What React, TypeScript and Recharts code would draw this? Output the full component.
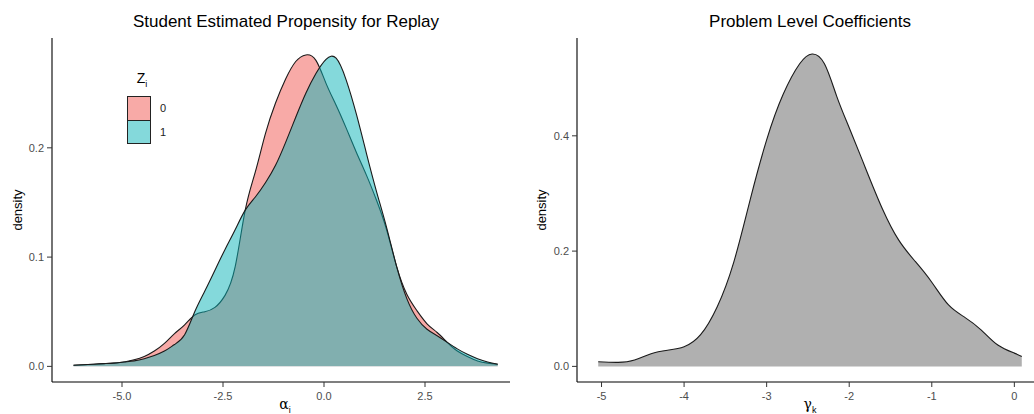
import React from 'react';
import { AreaChart, Area, XAxis, YAxis } from 'recharts';

// alpha_i grid and the two group densities (Z_i = 0 / 1)
const alphaGrid = [
  -6.2, -5.95, -5.7, -5.45, -5.2, -4.95, -4.7, -4.45, -4.2, -3.95, -3.7, -3.45, -3.2, -2.95, -2.7,
  -2.45, -2.2, -1.95, -1.7, -1.45, -1.2, -0.95, -0.7, -0.45, -0.2, 0.05, 0.3, 0.55, 0.8, 1.05,
  1.3, 1.55, 1.8, 2.05, 2.3, 2.55, 2.8, 3.05, 3.3, 3.55, 3.8, 4.05, 4.3,
];
const densityZ0 = [
  0.001, 0.0015, 0.002, 0.0025, 0.003, 0.004, 0.006, 0.009, 0.014, 0.021, 0.03, 0.038, 0.047, 0.05, 0.054,
  0.065, 0.091, 0.143, 0.178, 0.213, 0.241, 0.263, 0.279, 0.285, 0.28, 0.259, 0.239, 0.218, 0.196, 0.175,
  0.152, 0.125, 0.091, 0.066, 0.051, 0.039, 0.031, 0.022, 0.014, 0.009, 0.005, 0.003, 0.002,
];
const densityZ1 = [
  0.001, 0.0015, 0.002, 0.0025, 0.003, 0.004, 0.005, 0.007, 0.01, 0.014, 0.02, 0.029, 0.05, 0.069, 0.088,
  0.107, 0.125, 0.143, 0.155, 0.168, 0.184, 0.205, 0.228, 0.25, 0.268, 0.281, 0.282, 0.262, 0.231, 0.195,
  0.16, 0.127, 0.091, 0.062, 0.044, 0.034, 0.028, 0.022, 0.016, 0.011, 0.007, 0.004, 0.002,
];

// gamma_k grid and density, right panel
const gammaGrid = [
  -5.04, -4.8, -4.6, -4.4, -4.2, -4.0, -3.8, -3.6, -3.4, -3.2, -3.0, -2.8, -2.6, -2.45,
  -2.3, -2.15, -2.0, -1.8, -1.6, -1.4, -1.2, -1.0, -0.8, -0.6, -0.4, -0.2, 0.0, 0.09,
];
const densityGamma = [
  0.008, 0.007, 0.011, 0.022, 0.028, 0.034, 0.055, 0.103, 0.18, 0.289, 0.393, 0.472, 0.525, 0.542,
  0.525, 0.468, 0.414, 0.343, 0.274, 0.219, 0.182, 0.146, 0.107, 0.085, 0.063, 0.037, 0.023, 0.017,
];

const alphaTicks = [-5, -2.5, 0, 2.5];
const leftDensityTicks = [0, 0.1, 0.2];
const gammaTicks = [-5, -4, -3, -2, -1, 0];
const rightDensityTicks = [0, 0.2, 0.4];

const studentData = alphaGrid.map((a, i) => ({ alpha: a, z0: densityZ0[i], z1: densityZ1[i] }));
const problemData = gammaGrid.map((g, i) => ({ gamma: g, density: densityGamma[i] }));

const SANS = '"Liberation Sans", Arial, Helvetica, sans-serif';
const tickStyle = { fill: '#4d4d4d', fontSize: 11, fontFamily: SANS };

// small absolutely positioned label, centred on (x, y)
function Txt({ x, y, size = 13, rotate = 0, family = SANS, color = '#000', children }: any) {
  return (
    <div
      style={{
        position: 'absolute',
        left: x,
        top: y,
        transform: `translate(-50%, -50%) rotate(${rotate}deg)`,
        fontSize: size,
        fontFamily: family,
        color,
        lineHeight: 1,
        whiteSpace: 'nowrap',
      }}
    >
      {children}
    </div>
  );
}

export default function App() {
  return (
    <div
      style={{
        position: 'absolute',
        left: 0,
        top: 0,
        width: 1034,
        height: 414,
        overflow: 'hidden',
        background: '#fff',
        fontFamily: SANS,
      }}
    >
      {/* left panel */}
      <div style={{ position: 'absolute', left: 0, top: 0 }}>
        <AreaChart width={520} height={414} data={studentData} margin={{ top: 38, right: 10, bottom: 0, left: 0 }}>
          <XAxis
            type="number"
            dataKey="alpha"
            domain={[-6.733, 4.604]}
            ticks={alphaTicks}
            allowDataOverflow
            tickFormatter={(v: number) => v.toFixed(1)}
            height={32}
            tickSize={5}
            tickMargin={5}
            tick={tickStyle}
            axisLine={{ stroke: '#000', strokeWidth: 1.1 }}
            tickLine={{ stroke: '#333' }}
          />
          <YAxis
            type="number"
            domain={[-0.0143, 0.3005]}
            ticks={leftDensityTicks}
            allowDataOverflow
            tickFormatter={(v: number) => v.toFixed(1)}
            width={52}
            tickSize={5}
            tickMargin={3}
            tick={tickStyle}
            axisLine={{ stroke: '#000', strokeWidth: 1.1 }}
            tickLine={{ stroke: '#333' }}
          />
          <Area
            type="natural"
            dataKey="z0"
            fill="#F1554F"
            fillOpacity={0.5}
            stroke="#1a1a1a"
            strokeWidth={1.1}
            isAnimationActive={false}
          />
          <Area
            type="natural"
            dataKey="z1"
            fill="#09B3B7"
            fillOpacity={0.5}
            stroke="#1a1a1a"
            strokeWidth={1.1}
            isAnimationActive={false}
          />
        </AreaChart>
      </div>

      {/* right panel */}
      <div style={{ position: 'absolute', left: 520, top: 0 }}>
        <AreaChart width={523} height={414} data={problemData} margin={{ top: 38, right: 0, bottom: 0, left: 0 }}>
          <XAxis
            type="number"
            dataKey="gamma"
            domain={[-5.297, 0.347]}
            ticks={gammaTicks}
            allowDataOverflow
            height={32}
            tickSize={5}
            tickMargin={5}
            tick={tickStyle}
            axisLine={{ stroke: '#000', strokeWidth: 1.1 }}
            tickLine={{ stroke: '#333' }}
          />
          <YAxis
            type="number"
            domain={[-0.0271, 0.5697]}
            ticks={rightDensityTicks}
            allowDataOverflow
            tickFormatter={(v: number) => v.toFixed(1)}
            width={57}
            tickSize={5}
            tickMargin={3}
            tick={tickStyle}
            axisLine={{ stroke: '#000', strokeWidth: 1.1 }}
            tickLine={{ stroke: '#333' }}
          />
          <Area
            type="natural"
            dataKey="density"
            fill="#B0B0B0"
            fillOpacity={1}
            stroke="#1a1a1a"
            strokeWidth={1.1}
            isAnimationActive={false}
          />
        </AreaChart>
      </div>

      {/* titles */}
      <Txt x={286} y={21} size={17}>Student Estimated Propensity for Replay</Txt>
      <Txt x={810} y={21} size={17}>Problem Level Coefficients</Txt>

      {/* axis titles */}
      <Txt x={17} y={210} rotate={-90}>density</Txt>
      <Txt x={541} y={210} rotate={-90}>density</Txt>
      <Txt x={285} y={406} size={14} family='"DejaVu Serif", "Liberation Serif", serif'>
        α<sub style={{ fontSize: 9, fontFamily: SANS }}>i</sub>
      </Txt>
      <Txt x={810} y={406} size={14} family='"DejaVu Serif", "Liberation Serif", serif'>
        γ<sub style={{ fontSize: 9, fontFamily: SANS }}>k</sub>
      </Txt>

      {/* legend for Z_i */}
      <Txt x={142} y={80} size={14}>
        Z<sub style={{ fontSize: 9 }}>i</sub>
      </Txt>
      <div
        style={{
          position: 'absolute',
          left: 127,
          top: 96,
          width: 22,
          height: 23,
          background: '#F8AAA7',
          border: '1px solid #222',
        }}
      />
      <div
        style={{
          position: 'absolute',
          left: 127,
          top: 120,
          width: 22,
          height: 22,
          background: '#84D9DB',
          border: '1px solid #222',
        }}
      />
      <Txt x={163} y={108} size={11} color="#222">0</Txt>
      <Txt x={163} y={132} size={11} color="#222">1</Txt>
    </div>
  );
}
